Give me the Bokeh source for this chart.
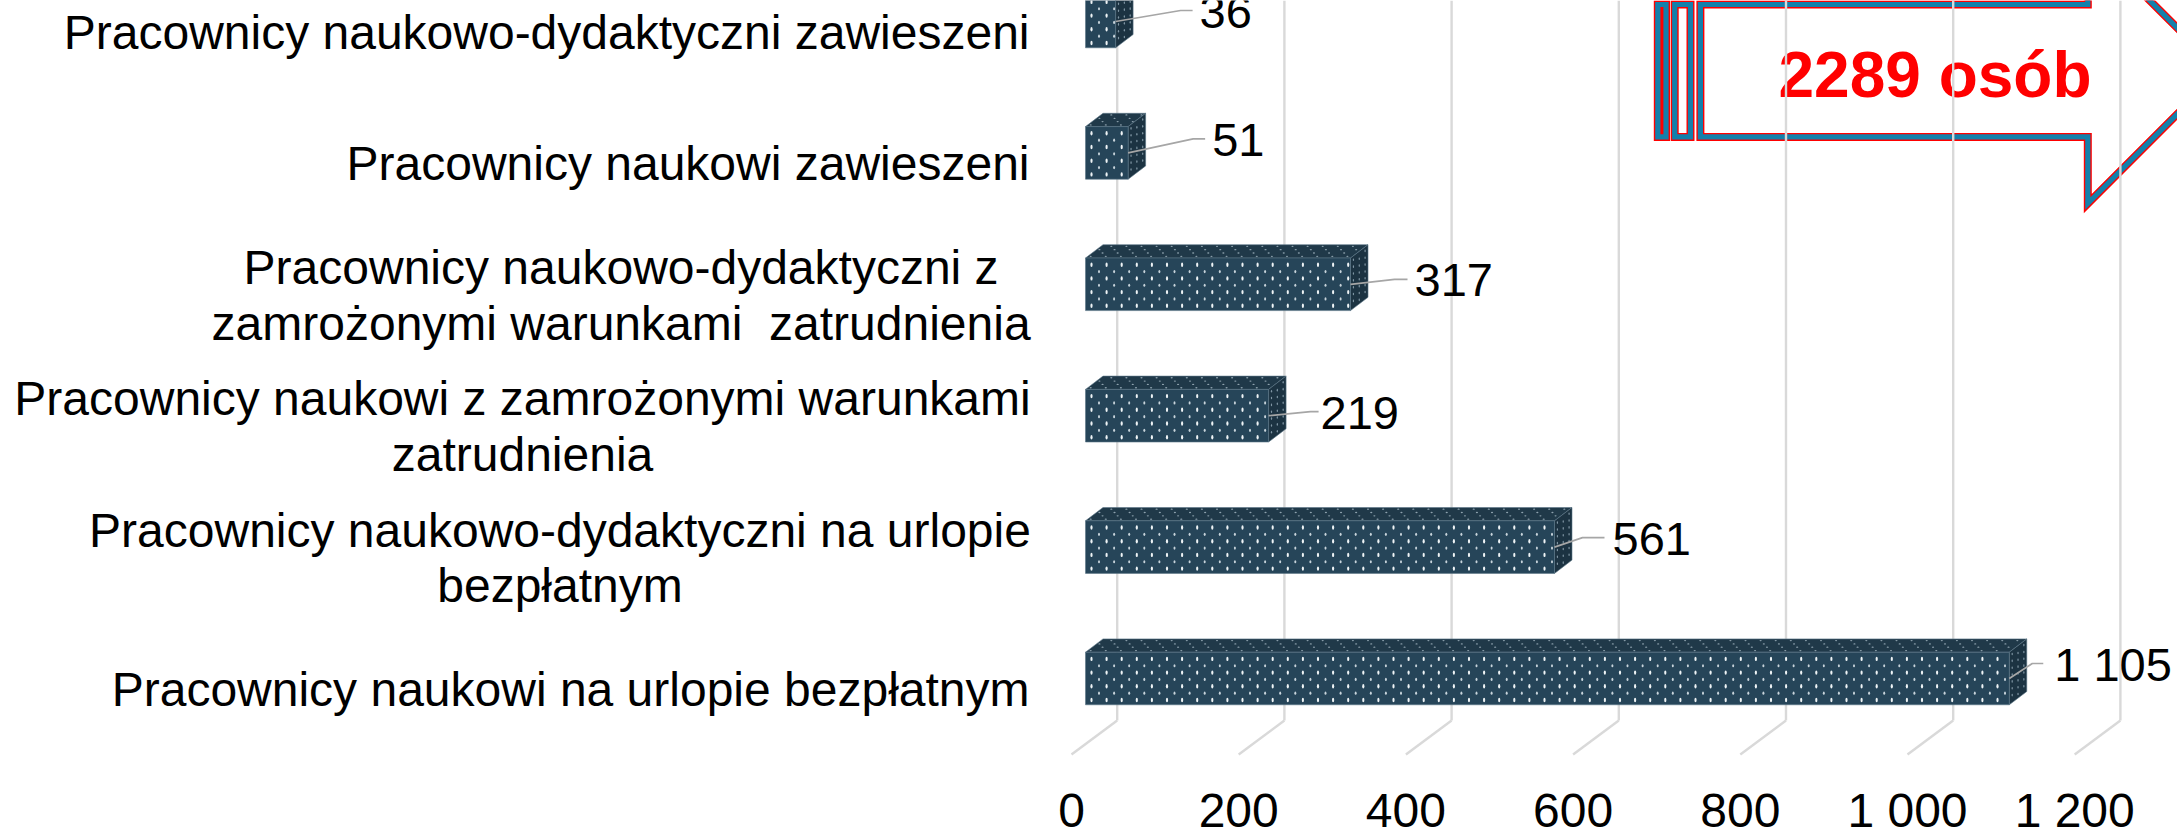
from bokeh.plotting import figure
from bokeh.models import Range1d
from bokeh.core.properties import value
from bokeh.embed import file_html
from bokeh.resources import INLINE

# ---- chart data (top to bottom) ----
categories = [
    "Pracownicy naukowo-dydaktyczni zawieszeni",
    "Pracownicy naukowi zawieszeni",
    "Pracownicy naukowo-dydaktyczni z\nzamrożonymi warunkami\u00a0 zatrudnienia",
    "Pracownicy naukowi z zamrożonymi warunkami\nzatrudnienia",
    "Pracownicy naukowo-dydaktyczni na urlopie\nbezpłatnym",
    "Pracownicy naukowi na urlopie bezpłatnym",
]
values = [36, 51, 317, 219, 561, 1105]
value_labels = ["36", "51", "317", "219", "561", "1 105"]
ticks = [0, 200, 400, 600, 800, 1000, 1200]
tick_labels = ["0", "200", "400", "600", "800", "1 000", "1 200"]
callout_text = "2289 osób"

# ---- layout (pixels of the picture) ----
W, H = 2177, 830
X0, KX = 1071.0, 0.836          # px of value 0 on the front floor edge, px per unit
Y0, KY = 678.0, 131.4           # px of the first bar's middle, px per category
FONT = "Liberation Sans"
FS = "48px"

def dx(px): return px / KX
def dy(px): return px / KY
def X(px): return (px - X0) / KX
def Y(px): return (Y0 - px) / KY

# layout per category (top to bottom): label centre for two-line texts,
# elbow height of leader, left edge of value label
label_centre = [None, None, 620.6, 522, 559.5, None]
elbow_up = [11, 14, 5, 4, 9.5, 15]
label_gap = [84, 84, 64, 52, 58, 45]
leader_len = [77, 77, 57, 50, 50, 34]
elbow_run = [65, 65, 44, 42, 28, 23]

p = figure(width=W, height=H, output_backend="svg", toolbar_location=None,
           x_range=Range1d(X(0), X(W)), y_range=Range1d(Y(H), Y(0)),
           x_axis_location=None, y_axis_location=None,
           min_border_left=0, min_border_right=0, min_border_top=0, min_border_bottom=0)
p.outline_line_color = None
p.grid.visible = False
p.background_fill_color = "white"
p.border_fill_color = "white"

# ---- callout arrow (behind the grid, as in the picture) ----
top, bot, mid = 4.0, 136.4, 70.5
sx, bx = 2087.3, 203.0
tipx = sx + (bx - mid)
arrow_x = [1699.9, sx, sx, tipx, sx, sx, 1699.9]
arrow_y = [top, top, 2 * mid - bx, mid, bx, bot, bot]
strip1 = ([1657.3, 1665.5, 1665.5, 1657.3], [top, top, bot, bot], "#ff0000")
strip2 = ([1674.2, 1690.0, 1690.0, 1674.2], [top, top, bot, bot], "#ffffff")
for xs, ys, fill in [strip1, strip2, (arrow_x, arrow_y, "#ffffff")]:
    gx, gy = [X(v) for v in xs], [Y(v) for v in ys]
    p.patch(gx, gy, fill_color=fill, line_color="#ff0000", line_width=8, line_join="miter")
    p.patch(gx, gy, fill_color=None, line_color="#1380ab", line_width=5.2, line_join="miter")
p.text([X(1934.5)], [Y(74)], text=[callout_text], text_font=value(FONT), text_font_style="bold",
       text_font_size="64px", text_color="#ff0000", text_align="center", text_baseline="middle")

# ---- walls ----
FLOOR_DX, FLOOR_DY = dx(45.7), dy(34)
floor_y = Y(754)
p.segment(ticks, [floor_y] * len(ticks), [t + FLOOR_DX for t in ticks], [floor_y + FLOOR_DY] * len(ticks),
          line_color="#d9d9d9", line_width=2.4)
p.segment([t + FLOOR_DX for t in ticks], [floor_y + FLOOR_DY] * len(ticks),
          [t + FLOOR_DX for t in ticks], [Y(0)] * len(ticks), line_color="#d9d9d9", line_width=2.4)

# ---- 3-D bars ----
BAR_X = dx(14)
DEPTH_X, DEPTH_Y = dx(17.5), dy(13.3)
HALF = dy(26.3)
n = len(values)
fx, fy, tx, ty, rx, ry = [], [], [], [], [], []
front_dots = ([], [], [], [])
top_dots = ([], [])
side_dots = ([], [])
for j, v in enumerate(values):
    c = n - 1 - j
    l, r = BAR_X, BAR_X + v
    b, t = c - HALF, c + HALF
    fx.append([l, r, r, l]); fy.append([b, b, t, t])
    tx.append([l, r, r + DEPTH_X, l + DEPTH_X]); ty.append([t, t, t + DEPTH_Y, t + DEPTH_Y])
    rx.append([r, r + DEPTH_X, r + DEPTH_X, r]); ry.append([b, b + DEPTH_Y, t + DEPTH_Y, t])
    # dotted texture of the faces
    for row in range(7):
        ry_px = 6.7 + row * 6.85
        xd = 6.0 + (7.5 if row % 2 else 0)
        while dx(xd) < v - dx(1):
            if row % 2:
                front_dots[2].append(l + dx(xd)); front_dots[3].append(t - dy(ry_px))
            else:
                front_dots[0].append(l + dx(xd)); front_dots[1].append(t - dy(ry_px))
            xd += 15.1
    for row in range(4):
        f = (row + 0.5) / 4
        xd = 3.0 + (7.5 if row % 2 else 0)
        while dx(xd) < v:
            top_dots[0].append(l + dx(xd) + f * DEPTH_X); top_dots[1].append(t + f * DEPTH_Y)
            xd += 15.1
    for col in range(3):
        f = (col + 0.5) / 3
        for row in range(7):
            ypx = 4 + (col % 2) * 3.4 + row * 6.85
            if ypx < 52:
                side_dots[0].append(r + f * DEPTH_X); side_dots[1].append(t - dy(ypx) + f * DEPTH_Y)

EDGE = "#5a7687"
p.patches(tx, ty, fill_color="#203949", line_color=EDGE, line_width=0.6)
p.patches(rx, ry, fill_color="#1c3342", line_color=EDGE, line_width=0.6)
p.patches(fx, fy, fill_color="#264559", line_color=EDGE, line_width=0.6)
p.ellipse(front_dots[0], front_dots[1], width=2.2, height=4.4, width_units="screen", height_units="screen",
          fill_color="#eef3f5", line_color=None)
p.ellipse(front_dots[2], front_dots[3], width=2.0, height=3.2, width_units="screen", height_units="screen",
          fill_color="#c8d4db", line_color=None)
p.ellipse(top_dots[0], top_dots[1], width=2.2, height=1.3, width_units="screen", height_units="screen",
          fill_color="#8ea2ae", line_color=None)
p.ellipse(side_dots[0], side_dots[1], width=1.3, height=2.6, width_units="screen", height_units="screen",
          fill_color="#7f95a3", line_color=None)

# ---- leaders and value labels ----
for j, v in enumerate(values):
    c = n - 1 - j
    x_start = BAR_X + v
    x_el = x_start + dx(elbow_run[j])
    x_end = x_start + dx(leader_len[j])
    y_el = c + dy(elbow_up[j])
    p.line([x_start, x_el, x_end], [c, y_el, y_el], line_color="#a6a6a6", line_width=1.7)
    p.text([x_start + dx(label_gap[j])], [y_el - dy(1)], text=[value_labels[j]], text_font=value(FONT),
           text_font_size="47px", text_color="#000000", text_align="left", text_baseline="middle")

# ---- category labels ----
LINE = dy(55.5)
for j, cat in enumerate(categories):
    c = n - 1 - j - dy(11)
    lines = cat.split("\n")
    for k, line in enumerate(lines):
        yy = c + ((len(lines) - 1) / 2 - k) * LINE
        if label_centre[j] is None:
            p.text([X(1029)], [yy], text=[line], text_font=value(FONT), text_font_size=FS,
                   text_color="#000000", text_align="right", text_baseline="middle")
        else:
            p.text([X(label_centre[j])], [yy], text=[line], text_font=value(FONT), text_font_size=FS,
                   text_color="#000000", text_align="center", text_baseline="middle")

# ---- value axis labels ----
p.text(ticks, [Y(810)] * len(ticks), text=tick_labels, text_font=value(FONT), text_font_size=FS,
       text_color="#000000", text_align="center", text_baseline="middle")

open("out.html", "w").write(file_html(p, INLINE))
